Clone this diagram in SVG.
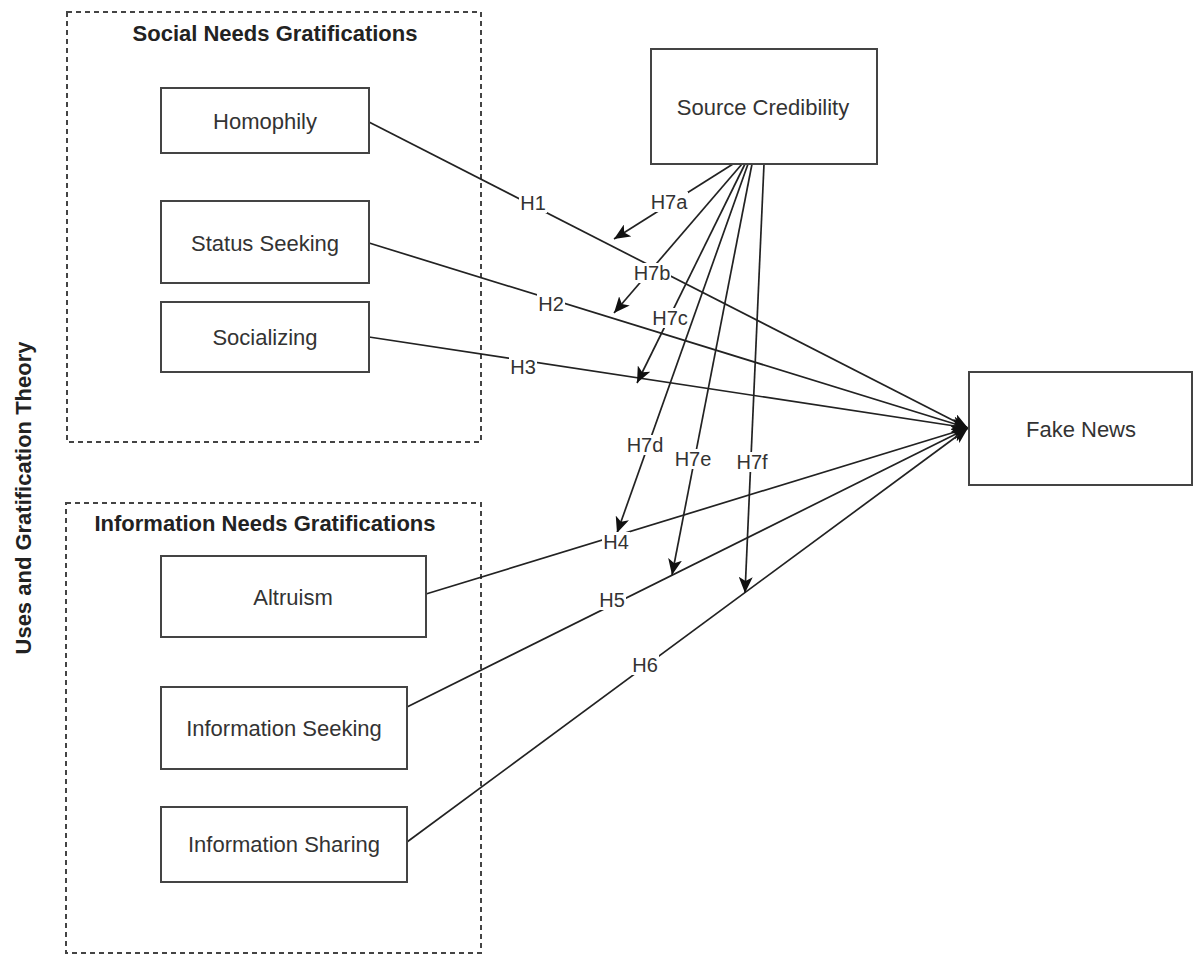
<svg xmlns="http://www.w3.org/2000/svg" width="1193" height="956" viewBox="0 0 1193 956">
<style>
  .group { fill: none; stroke: #444; stroke-width: 2; stroke-dasharray: 5 4; }
  .box { fill: #fff; stroke: #444; stroke-width: 2; }
  .node-text { font-family: "Liberation Sans", Arial, sans-serif; font-size: 22px; fill: #333; text-anchor: middle; }
  .title { font-family: "Liberation Sans", Arial, sans-serif; font-size: 22px; font-weight: bold; fill: #222; text-anchor: middle; }
  .edge { fill: none; stroke: #222; stroke-width: 1.7; }
  .lbl-bg { fill: #fff; }
  .lbl { font-family: "Liberation Sans", Arial, sans-serif; font-size: 20px; fill: #333; text-anchor: middle; }
</style>
<defs>
  <marker id="arrow" markerUnits="userSpaceOnUse" markerWidth="17" markerHeight="14" refX="16" refY="7" orient="auto">
    <path d="M0,0 L16,7 L0,14 L4,7 z" fill="#111"/>
  </marker>
</defs>
<rect width="1193" height="956" fill="#fff"/>

<g id="social-group">
  <rect class="group" x="67" y="12" width="414" height="430"/>
  <text class="title" x="275" y="41">Social Needs Gratifications</text>
</g>
<g id="information-group">
  <rect class="group" x="66" y="503" width="415" height="450"/>
  <text class="title" x="265" y="531">Information Needs Gratifications</text>
</g>
<g id="theory-label">
  <text class="title" transform="translate(31,498) rotate(-90)" x="0" y="0">Uses and Gratification Theory</text>
</g>

<g id="connectors">
  <line class="edge" x1="369" y1="122" x2="968" y2="428" marker-end="url(#arrow)"/>
  <line class="edge" x1="369" y1="243" x2="968" y2="428" marker-end="url(#arrow)"/>
  <line class="edge" x1="369" y1="337" x2="968" y2="428" marker-end="url(#arrow)"/>
  <line class="edge" x1="426" y1="594" x2="968" y2="428" marker-end="url(#arrow)"/>
  <line class="edge" x1="407" y1="707" x2="968" y2="428" marker-end="url(#arrow)"/>
  <line class="edge" x1="407" y1="842" x2="968" y2="428" marker-end="url(#arrow)"/>
  <line class="edge" x1="733" y1="164" x2="614" y2="239" marker-end="url(#arrow)"/>
  <line class="edge" x1="742" y1="164" x2="614" y2="313" marker-end="url(#arrow)"/>
  <line class="edge" x1="745" y1="164" x2="637" y2="383" marker-end="url(#arrow)"/>
  <line class="edge" x1="748" y1="164" x2="617" y2="533" marker-end="url(#arrow)"/>
  <line class="edge" x1="752" y1="164" x2="672" y2="575" marker-end="url(#arrow)"/>
  <line class="edge" x1="764" y1="164" x2="745" y2="593" marker-end="url(#arrow)"/>
  <g id="edge-labels">
    <rect class="lbl-bg" x="519" y="193" width="28" height="20"/><text class="lbl" x="533" y="210">H1</text>
    <rect class="lbl-bg" x="537" y="294" width="28" height="20"/><text class="lbl" x="551" y="311">H2</text>
    <rect class="lbl-bg" x="509" y="357" width="28" height="20"/><text class="lbl" x="523" y="374">H3</text>
    <rect class="lbl-bg" x="602" y="532" width="28" height="20"/><text class="lbl" x="616" y="549">H4</text>
    <rect class="lbl-bg" x="598" y="590" width="28" height="20"/><text class="lbl" x="612" y="607">H5</text>
    <rect class="lbl-bg" x="631" y="655" width="28" height="20"/><text class="lbl" x="645" y="672">H6</text>
    <rect class="lbl-bg" x="650" y="192" width="38" height="20"/><text class="lbl" x="669" y="209">H7a</text>
    <rect class="lbl-bg" x="633" y="263" width="38" height="20"/><text class="lbl" x="652" y="280">H7b</text>
    <rect class="lbl-bg" x="651" y="308" width="38" height="20"/><text class="lbl" x="670" y="325">H7c</text>
    <rect class="lbl-bg" x="626" y="435" width="38" height="20"/><text class="lbl" x="645" y="452">H7d</text>
    <rect class="lbl-bg" x="674" y="449" width="38" height="20"/><text class="lbl" x="693" y="466">H7e</text>
    <rect class="lbl-bg" x="735" y="452" width="34" height="20"/><text class="lbl" x="752" y="469">H7f</text>
  </g>
</g>

<g id="homophily">
  <rect class="box" x="161" y="88" width="208" height="65"/>
  <text class="node-text" x="265" y="129">Homophily</text>
</g>
<g id="status-seeking">
  <rect class="box" x="161" y="201" width="208" height="82"/>
  <text class="node-text" x="265" y="251">Status Seeking</text>
</g>
<g id="socializing">
  <rect class="box" x="161" y="302" width="208" height="70"/>
  <text class="node-text" x="265" y="345">Socializing</text>
</g>
<g id="altruism">
  <rect class="box" x="161" y="556" width="265" height="81"/>
  <text class="node-text" x="293" y="605">Altruism</text>
</g>
<g id="information-seeking">
  <rect class="box" x="161" y="687" width="246" height="82"/>
  <text class="node-text" x="284" y="736">Information Seeking</text>
</g>
<g id="information-sharing">
  <rect class="box" x="161" y="807" width="246" height="75"/>
  <text class="node-text" x="284" y="852">Information Sharing</text>
</g>
<g id="source-credibility">
  <rect class="box" x="651" y="49" width="226" height="115"/>
  <text class="node-text" x="763" y="115">Source Credibility</text>
</g>
<g id="fake-news">
  <rect class="box" x="969" y="372" width="223" height="113"/>
  <text class="node-text" x="1081" y="437">Fake News</text>
</g>
</svg>
